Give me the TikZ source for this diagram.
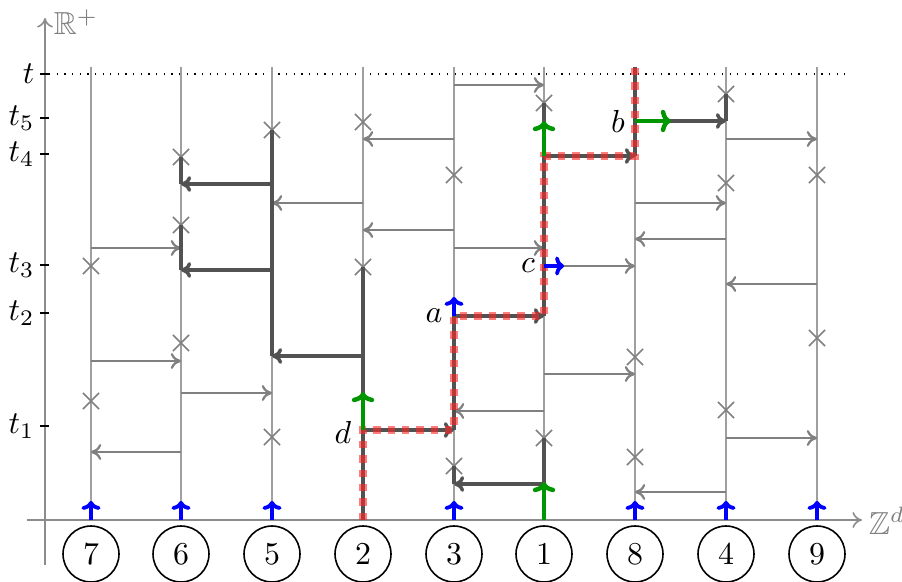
\documentclass[tikz,border=0pt]{standalone}
\usepackage{amssymb}
\usetikzlibrary{arrows.meta,shapes.misc}
\definecolor{grn}{RGB}{0,150,0}
\begin{document}
\begin{tikzpicture}[x=0.011025cm,y=-0.011025cm,
  colline/.style={gray!75, line width=0.5pt},
  axis/.style={gray!90, line width=0.5pt, -{To[length=3pt,width=5pt]}},
  garrow/.style={gray, line width=0.7pt, -{To[length=3.2pt,width=5pt]}},
  darrow/.style={black!68, line width=1.1pt, -{To[length=3.2pt,width=5pt]}},
  dline/.style={black!68, line width=1.1pt},
  redpath/.style={red!85, opacity=0.6, line width=2.5pt, dash pattern=on 2.3pt off 2.2pt},
  grarrow/.style={grn, line width=1.4pt, -{To[length=3.2pt,width=7pt]}},
  blarrow/.style={blue, line width=1.2pt, -{To[length=2.8pt,width=6pt]}},
  xmark/.style={cross out, draw=gray, line width=0.5pt, minimum size=0.16cm, inner sep=0pt},
  pnode/.style={circle, draw, line width=0.5pt},
  tickmark/.style={black, line width=0.8pt},
  lbl/.style={inner sep=1pt}
]
\useasboundingbox (0,0) rectangle (902,582);

% axes
\draw[axis] (45,565) -- (45,18);
\node[gray] (Rp) at (76,22) {$\mathbb{R}^{+}$};
\draw[axis] (27,520) -- (862,520);
\node[gray] (Zd) at (887,521) {$\mathbb{Z}^{d}$};

% ticks and labels
\foreach \yy/\tt in {74/t,118/t_5,154/t_4,265/t_3,313/t_2,426/t_1}{
  \draw[tickmark] (40,\yy) -- (49,\yy);
  \node[anchor=east,inner sep=0pt] at (35,\yy) {$\tt$};
}
\draw[dotted, line width=0.4pt] (49,74) -- (846,74);

% columns
\foreach \xx/\nn in {91/7,181/6,272/5,363/2,454/3,544/1,635/8,726/4,817/9}{
  \draw[colline] (\xx,520) -- (\xx,67);
  \node[pnode] (p\nn) at (\xx,554) {$\nn$};
}

% gray arrows
\draw[garrow] (454,85) -- (544,85);
\draw[garrow] (454,139) -- (363,139);
\draw[garrow] (726,139) -- (817,139);
\draw[garrow] (363,203) -- (272,203);
\draw[garrow] (635,203) -- (726,203);
\draw[garrow] (454,230) -- (363,230);
\draw[garrow] (726,239) -- (635,239);
\draw[garrow] (91,248) -- (181,248);
\draw[garrow] (454,248) -- (544,248);
\draw[garrow] (544,266) -- (635,266);
\draw[garrow] (817,284) -- (726,284);
\draw[garrow] (91,361) -- (181,361);
\draw[garrow] (544,374) -- (635,374);
\draw[garrow] (181,393) -- (272,393);
\draw[garrow] (544,411) -- (454,411);
\draw[garrow] (726,438) -- (817,438);
\draw[garrow] (181,452) -- (91,452);
\draw[garrow] (726,492) -- (635,492);

% crosses
\foreach \xx/\yy [count=\i] in {91/266,91/401,181/157,181/225,181/343,272/130,272/437,
   363/122,363/267,454/175,454/466,544/103,544/438,635/357,635/457,
   726/94,726/183,726/410,817/175,817/338}{
  \node[xmark] (x\i) at (\xx,\yy) {};
}

% dark infection paths
\draw[dline] (726,121) -- (726,94);
\draw[dline] (272,356) -- (272,130);
\draw[dline] (181,184) -- (181,157);
\draw[dline] (181,270) -- (181,225);
\draw[dline] (363,520) -- (363,267);
\draw[dline] (454,484) -- (454,466);
\draw[dline] (454,430) -- (454,316);
\draw[dline] (544,520) -- (544,438);
\draw[dline] (544,316) -- (544,103);
\draw[dline] (635,156) -- (635,67);
\draw[darrow] (363,356) -- (272,356);
\draw[darrow] (272,270) -- (181,270);
\draw[darrow] (272,184) -- (181,184);
\draw[darrow] (544,484) -- (454,484);
\draw[darrow] (363,430) -- (454,430);
\draw[darrow] (454,316) -- (544,316);
\draw[darrow] (544,156) -- (635,156);
\draw[darrow] (635,121) -- (726,121);

% red path
\draw[redpath] (363,520) -- (363,430) -- (454,430) -- (454,316) -- (544,316)
  -- (544,156) -- (635,156) -- (635,67);

% blue arrows
\foreach \xx in {91,181,272,454,635,726,817}{
  \draw[blarrow] (\xx,520) -- (\xx,501);
}
\draw[blarrow] (454,316) -- (454,297);
\draw[blarrow] (544,266) -- (564,266);

% green arrows
\draw[grarrow] (544,520) -- (544,482);
\draw[grarrow] (363,430) -- (363,392);
\draw[grarrow] (544,156) -- (544,121);
\draw[grarrow] (635,121) -- (671,121);

% labels
\node[lbl] (la) at (434,316) {$a$};
\node[lbl] (lb) at (618,121) {$b$};
\node[lbl] (lc) at (528,266) {$c$};
\node[lbl] (ld) at (343,432) {$d$};
\end{tikzpicture}
\end{document}
